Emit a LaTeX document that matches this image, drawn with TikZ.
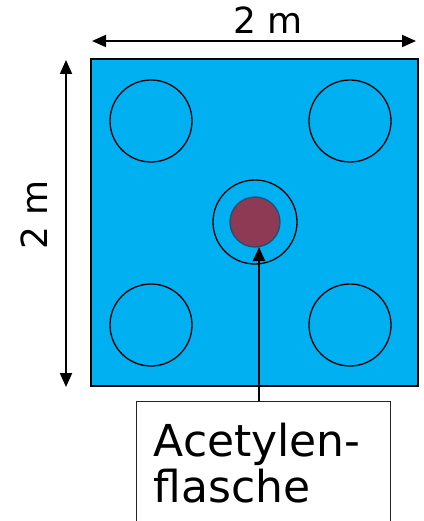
\documentclass[tikz,border=0pt]{standalone}
\usepackage{fontspec}
\setmainfont{DejaVu Sans}
\usetikzlibrary{arrows.meta}
\definecolor{tankblue}{HTML}{00B0F0}
\definecolor{bottlered}{HTML}{8E3A55}
\definecolor{bottleedge}{HTML}{1F5070}

\begin{document}
\begin{tikzpicture}[x=1pt,y=-1pt,
    >={Triangle[length=14pt,width=12pt]},
    dimarrow/.style={line width=2pt,<->},
    ring/.style={draw,line width=1.3pt,circle,minimum size=82pt,inner sep=0pt}]
                \useasboundingbox (0,0) rectangle (423,521);
                \clip (0,0) rectangle (423,521);

                \coordinate (A) at (91,59);
                \coordinate (B) at (418,386);
                \coordinate (HL) at (92,41);
                \coordinate (HR) at (416,41);
                \coordinate (VT) at (66,60);
                \coordinate (VB) at (66,387);
                \coordinate (T) at (259,247);

                \draw[fill=tankblue,line width=1.3pt] (A) rectangle (B);

                \node [ring] (C1) at (151,121) {};
                \node [ring] (C2) at (350,121) {};
                \node [ring] (C3) at (151,325) {};
                \node [ring] (C4) at (350,325) {};
                \node [ring,minimum size=84pt] (ring) at (255,222) {};
                \node [draw=bottleedge,fill=bottlered,line width=1.3pt,circle,minimum size=50pt,inner sep=0pt] (bottle) at (255,222) {};

                \draw[dimarrow] (HL) -- (HR);
                \draw[dimarrow] (VT) -- (VB);
                \node [font=\fontsize{36}{36}\selectfont] (width) at (268,20) {2 m};
                \node [font=\fontsize{36}{36}\selectfont,rotate=90] (height) at (34,215) {2 m};

                \node [draw=black!85,line width=1.3pt,anchor=north west,inner xsep=17pt,inner ysep=21pt,
                       text width=220pt,align=left,font=\fontsize{44}{46}\selectfont] (label) at (136,401) {Acetylen-\\flasche};

                \draw[line width=2pt,->] (label.north -| T) -- (T);
\end{tikzpicture}
\end{document}
